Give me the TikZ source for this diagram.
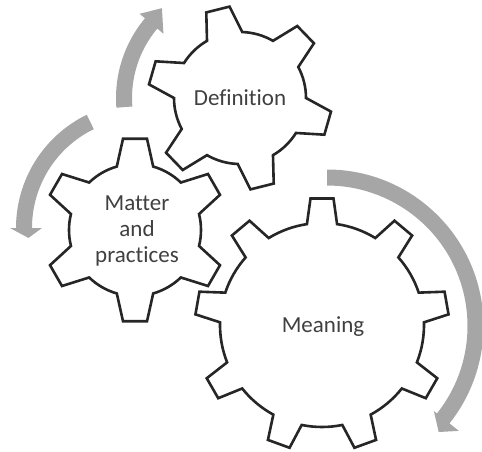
\documentclass[tikz,border=0pt]{standalone}
\usepackage{fontspec}
\setmainfont{Carlito}[Ligatures=NoCommon]
\definecolor{gearline}{RGB}{38,38,38}
\definecolor{txtgray}{RGB}{64,64,64}
\definecolor{arrowfill}{RGB}{166,166,166}
\tikzset{
  gearstyle/.style={draw=gearline, line width=2.6pt, fill=white, line join=miter},
  gearlabel/.style={text=txtgray, font=\fontsize{23}{26}\selectfont, inner sep=0pt},
  circarrow/.style={fill=arrowfill, draw=none}
}
% #1 teeth, #2 phase, #3 outer r, #4 root r, #5 tip half-angle, #6 base half-angle
\newcommand\gearoutline[6]{%
  \path[gearstyle] ({#2-#6}:{#4})
    \foreach \k [evaluate=\k as \th using {#2+(\k-1)*360/#1}] in {1,...,#1}{
      -- ({\th-#5}:{#3}) -- ({\th+#5}:{#3}) -- ({\th+#6}:{#4})
      arc[start angle={\th+#6}, end angle={\th+360/#1-#6}, radius=#4]
    } -- cycle;
}
% #1 shaft radius, #2 start angle, #3 head base angle, #4 tip angle,
% #5 shaft half width, #6 outer barb radius, #7 inner barb radius, #8 tip radius
\newcommand\arcarrow[8]{%
  \fill[circarrow] ({#2}:{#1+#5}) arc[start angle=#2, end angle=#3, radius={#1+#5}]
    -- ({#3}:{#6}) -- ({#4}:{#8}) -- ({#3}:{#7}) -- ({#3}:{#1-#5})
    arc[start angle=#3, end angle=#2, radius={#1-#5}] -- cycle;
}
\begin{document}
\begin{tikzpicture}[x=1pt,y=1pt]
\useasboundingbox (0,0) rectangle (482,-452);
% arrows
\begin{scope}[shift={(240,-98)}]
  \arcarrow{116}{184.5}{140}{131}{8}{131}{100}{119}
\end{scope}
\begin{scope}[shift={(142,-228)}]
  \arcarrow{118}{116}{180}{185}{8}{132}{100}{114}
\end{scope}
\begin{scope}[shift={(327,-326)}]
  \arcarrow{148.5}{90}{-38.5}{-43.5}{8}{168.5}{136.5}{154}
\end{scope}
% gears
\begin{scope}[shift={(240,-98)}]
  \gearoutline{6}{104}{92}{66}{7.5}{16}
\end{scope}
\begin{scope}[shift={(135,-230)}]
  \gearoutline{6}{90}{92}{66}{7.5}{16}
\end{scope}
\begin{scope}[shift={(322,-325)}]
  \gearoutline{9}{90}{127}{102}{5.2}{8.5}
\end{scope}
% labels
\node[gearlabel, anchor=base] (definition) at (240,-105) {Definition};
\node[gearlabel, anchor=base] (meaning) at (323,-332) {Meaning};
\node[gearlabel, align=center] (matter) at (137,-231) {Matter\\and\\practices};
\end{tikzpicture}
\end{document}
